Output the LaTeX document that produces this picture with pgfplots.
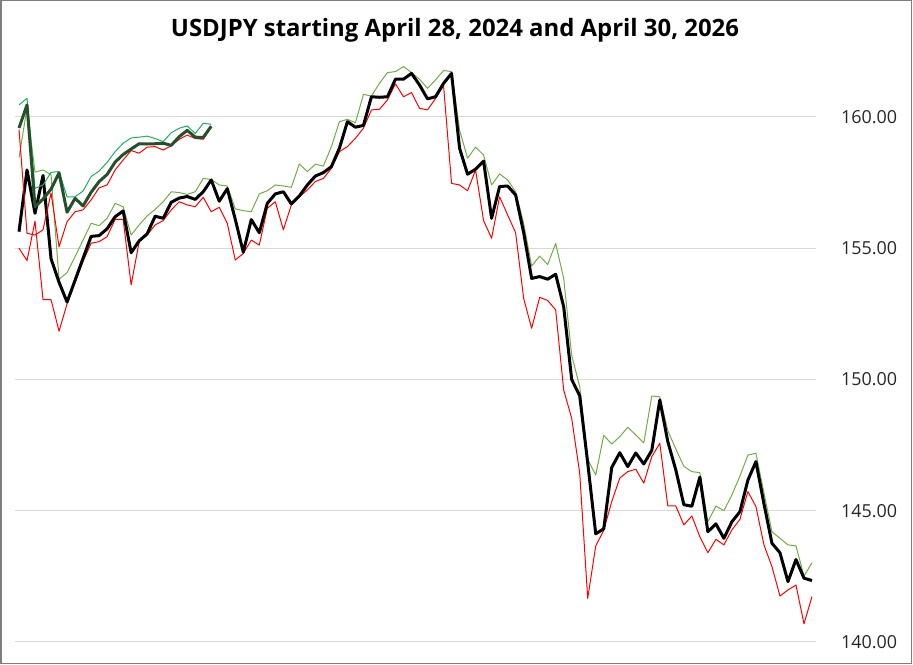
\documentclass[border=0pt]{standalone}
\usepackage{pgfplots}
\pgfplotsset{compat=1.18}
\usepackage{pgfplotstable}
\usepackage{fontspec}
\setmainfont{Open Sans}
\definecolor{hiA}{HTML}{70AD47}
\definecolor{loR}{HTML}{FF0000}
\definecolor{clB}{HTML}{24502B}
\definecolor{hiB}{HTML}{1FAF5A}
\definecolor{gridc}{HTML}{D9D9D9}
\definecolor{framec}{HTML}{7F7F7F}
\definecolor{tickc}{HTML}{262626}

% series starting April 28, 2024: x, close, high, low
\pgfplotstableread{
x c h l
0 155.63 158.45 155.00
1 157.98 160.35 154.53
2 156.33 157.90 156.03
3 157.77 157.98 153.04
4 154.60 157.80 153.04
5 153.70 153.82 151.84
6 152.95 154.07 152.88
7 153.78 154.68 153.70
8 154.62 155.31 154.50
9 155.45 155.95 155.19
10 155.48 155.86 155.25
11 155.74 156.14 155.44
12 156.20 156.71 156.10
13 156.42 156.58 156.10
14 154.83 155.50 153.60
15 155.28 155.89 155.25
16 155.55 156.23 155.50
17 156.22 156.48 155.89
18 156.14 156.77 156.05
19 156.75 157.15 156.46
20 156.91 157.12 156.77
21 156.97 157.05 156.65
22 156.86 157.15 156.58
23 157.15 157.66 156.94
24 157.60 157.62 156.39
25 156.79 157.41 156.56
26 157.27 157.37 155.95
27 156.10 156.50 154.55
28 154.85 156.43 154.80
29 156.09 156.39 155.31
30 155.59 157.07 155.12
31 156.71 157.19 156.52
32 157.07 157.41 156.77
33 157.15 157.37 155.70
34 156.69 157.32 156.65
35 156.99 158.21 156.96
36 157.41 157.92 157.22
37 157.75 158.20 157.54
38 157.88 158.13 157.66
39 158.11 158.87 158.04
40 158.81 159.82 158.68
41 159.82 159.91 158.87
42 159.61 159.78 159.19
43 159.68 160.86 159.57
44 160.77 160.80 160.27
45 160.75 161.28 160.29
46 160.77 161.69 160.65
47 161.44 161.73 161.26
48 161.44 161.92 160.77
49 161.66 161.69 160.93
50 161.22 161.44 160.33
51 160.69 161.09 160.27
52 160.77 161.41 160.70
53 161.28 161.77 161.20
54 161.66 161.73 157.47
55 158.81 159.50 157.41
56 157.82 158.43 157.19
57 158.01 158.85 157.98
58 158.32 158.55 156.05
59 156.14 157.41 155.38
60 157.35 157.83 156.96
61 157.37 157.60 156.27
62 157.03 157.15 155.59
63 155.60 155.95 153.09
64 153.85 154.32 151.95
65 153.92 154.70 153.13
66 153.82 154.38 153.01
67 154.01 155.18 152.65
68 152.77 153.85 149.60
69 150.00 150.92 148.52
70 149.38 149.73 146.43
71 146.82 146.96 141.66
72 144.12 146.36 143.66
73 144.31 147.87 144.25
74 146.65 147.54 145.35
75 147.21 147.82 146.24
76 146.68 148.18 146.49
77 147.20 147.89 146.58
78 146.78 147.58 146.05
79 147.30 149.37 147.06
80 149.22 149.34 147.57
81 147.63 148.05 145.18
82 146.55 147.35 145.18
83 145.23 146.69 144.46
84 145.17 146.49 144.80
85 146.28 146.45 144.01
86 144.20 144.58 143.40
87 144.50 145.18 143.91
88 143.95 145.00 143.70
89 144.58 145.60 144.27
90 144.96 146.32 144.67
91 146.17 147.12 145.73
92 146.87 147.19 145.16
93 145.27 145.68 143.70
94 143.76 144.20 142.87
95 143.40 143.95 141.75
96 142.30 143.70 141.98
97 143.14 143.66 142.17
98 142.43 142.51 140.69
99 142.34 143.02 141.73
}\seriesA

% series starting April 30, 2026: x, close, high, low
\pgfplotstableread{
x c h l
0 159.58 160.46 159.52
1 160.46 160.71 155.57
2 156.58 157.28 155.50
3 156.87 157.41 155.70
4 157.25 157.89 157.10
5 157.87 157.92 155.05
6 156.37 156.96 156.01
7 156.90 156.96 156.39
8 156.61 157.18 156.46
9 157.13 157.73 156.84
10 157.54 157.94 157.30
11 157.81 158.27 157.41
12 158.28 158.68 157.98
13 158.57 159.00 158.36
14 158.78 159.20 158.72
15 158.98 159.23 158.62
16 158.97 159.27 158.85
17 158.98 159.18 158.87
18 159.00 159.06 158.74
19 158.92 159.40 158.90
20 159.25 159.57 159.15
21 159.49 159.66 159.31
22 159.23 159.37 159.18
23 159.22 159.76 159.15
24 159.65 159.72 159.61
}\seriesB

\begin{document}
\begin{tikzpicture}
\begin{axis}[
  at={(15bp,9.9bp)}, anchor=south west,
  scale only axis,
  width=801bp, height=603.75bp,
  xmin=-0.5, xmax=99.5,
  ymin=139.5, ymax=162.5,
  axis line style={draw=none},
  xtick=\empty,
  ytick={140,145,150,155,160},
  yticklabel pos=right,
  ymajorgrids,
  grid style={gridc, line width=1bp},
  major tick length=0pt,
  tick style={draw=none},
  /pgf/number format/assume math mode=true,
  /pgf/number format/fixed,
  /pgf/number format/fixed zerofill,
  /pgf/number format/precision=2,
  yticklabel style={anchor=east, inner sep=0pt, xshift=81.3bp, text=tickc,
    font=\fontsize{18}{20}\selectfont},
  clip=false,
]
\addplot[hiA, line width=1bp, line join=round] table[x=x, y=h]{\seriesA};
\addplot[loR, line width=1bp, line join=round] table[x=x, y=l]{\seriesA};
\addplot[black, line width=3bp, line join=round] table[x=x, y=c]{\seriesA};
\addplot[hiB, line width=1bp, line join=round] table[x=x, y=h]{\seriesB};
\addplot[loR, line width=1bp, line join=round] table[x=x, y=l]{\seriesB};
\addplot[clB, line width=3bp, line join=round] table[x=x, y=c]{\seriesB};
\end{axis}
\node[font=\fontsize{24}{28}\selectfont\bfseries, anchor=base] at (455bp,628.3bp) {USDJPY starting April 28, 2024 and April 30, 2026};
\pgfresetboundingbox
\path[use as bounding box] (0,0) rectangle (913bp,665bp);
\draw[framec, line width=1.5bp] (1bp,1.7bp) rectangle (911.3bp,664.5bp);
\end{tikzpicture}
\end{document}
